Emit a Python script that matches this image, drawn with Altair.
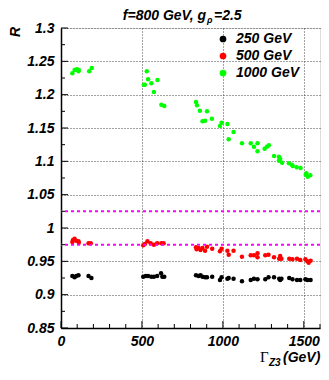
import altair as alt
import pandas as pd

# ---- data ----
x_250 = [70, 84, 94, 108, 170, 188, 508, 524, 538, 558, 574, 594, 618, 626, 638,
         834, 850, 862, 874, 890, 902, 934, 982, 992, 1028, 1036, 1066, 1118, 1172, 1192,
         1214, 1262, 1282, 1316, 1348, 1354, 1362, 1410, 1430, 1458, 1478, 1510, 1522, 1542]
y_250 = [0.928, 0.926, 0.928, 0.929, 0.928, 0.925, 0.927, 0.928, 0.928, 0.927, 0.927, 0.928, 0.932, 0.927, 0.927,
         0.929, 0.928, 0.929, 0.927, 0.926, 0.926, 0.927, 0.922, 0.926, 0.924, 0.925, 0.924, 0.920, 0.922, 0.924,
         0.923, 0.923, 0.926, 0.926, 0.924, 0.922, 0.924, 0.925, 0.923, 0.922, 0.922, 0.923, 0.922, 0.922]

x_500 = [70, 74, 84, 94, 108, 110, 170, 184, 508, 518, 534, 554, 574, 594, 620, 634,
         834, 838, 850, 862, 874, 890, 902, 934, 982, 992, 1028, 1036, 1066, 1118, 1172, 1192,
         1214, 1214, 1262, 1282, 1316, 1348, 1354, 1362, 1410, 1430, 1458, 1478, 1510, 1522, 1530, 1542]
y_500 = [0.979, 0.982, 0.984, 0.981, 0.980, 0.978, 0.977, 0.977, 0.974, 0.976, 0.980, 0.977, 0.975, 0.977, 0.977, 0.977,
         0.971, 0.968, 0.970, 0.967, 0.970, 0.966, 0.972, 0.969, 0.965, 0.969, 0.966, 0.960, 0.966, 0.957, 0.959, 0.959,
         0.962, 0.956, 0.959, 0.960, 0.956, 0.954, 0.958, 0.954, 0.954, 0.953, 0.954, 0.952, 0.953, 0.950, 0.948, 0.951]

x_1000 = [70, 84, 98, 110, 108, 174, 190, 530, 538, 512, 518, 558, 596, 574, 620, 638,
          834, 840, 858, 902, 874, 890, 932, 992, 982, 1028, 1066, 1036, 1118, 1172, 1192, 1214, 1214,
          1258, 1272, 1284, 1316, 1346, 1354, 1346, 1366, 1408, 1426, 1432, 1456, 1480, 1516, 1524, 1540, 1512]
y_1000 = [1.232, 1.237, 1.238, 1.237, 1.235, 1.235, 1.240, 1.235, 1.223, 1.215, 1.215, 1.217, 1.222, 1.204, 1.185, 1.183,
          1.189, 1.184, 1.176, 1.175, 1.160, 1.161, 1.164, 1.158, 1.153, 1.156, 1.144, 1.133, 1.127, 1.127, 1.122, 1.127, 1.115,
          1.119, 1.122, 1.124, 1.108, 1.107, 1.104, 1.101, 1.098, 1.097, 1.095, 1.093, 1.091, 1.090, 1.082, 1.077, 1.079, 1.080]

series = ["250 GeV", "500 GeV", "1000 GeV"]
colors = ["#000000", "#ff0000", "#00ff00"]
band_lines = [1.025, 0.975]
y_labels = [0.85, 0.9, 0.95, 1.0, 1.05, 1.1, 1.15, 1.2, 1.25, 1.3]
x_labels = [0, 500, 1000, 1500]
y_minor = [round(0.85 + 0.025 * i, 3) for i in range(19)]
x_minor = [100 * i for i in range(17)]

rows = []
for name, xs, ys in [(series[0], x_250, y_250), (series[1], x_500, y_500), (series[2], x_1000, y_1000)]:
    for a, b in zip(xs, ys):
        rows.append({"gamma": a, "R": b, "mass": name})
df = pd.DataFrame(rows)

FONT = "Liberation Sans"
W, H = 259, 300

xscale = alt.Scale(domain=[0, 1600], nice=False, zero=False)
yscale = alt.Scale(domain=[0.85, 1.3], nice=False, zero=False)

xaxis = alt.Axis(values=x_labels, format="d", ticks=False, grid=True,
                 gridColor="#444", gridDash=[1, 2], gridWidth=1, domainColor="black",
                 domainWidth=1.5, labelFont=FONT, labelFontWeight="bold", labelFontStyle="italic",
                 labelFontSize=14, labelColor="black", labelPadding=6, labelOverlap=False,
                 labelFlush=False, labelBound=False, title=None)
yaxis = alt.Axis(values=y_labels, ticks=False, grid=True,
                 gridColor="#444", gridDash=[1, 2], gridWidth=1, domainColor="black",
                 domainWidth=1.5, labelFont=FONT, labelFontWeight="bold", labelFontStyle="italic",
                 labelFontSize=14, labelColor="black", labelPadding=7, labelOverlap=False,
                 labelFlush=False, labelBound=False, title=None,
                 labelExpr="datum.value == 1 ? '1' : format(datum.value, '.3~f')")

points = alt.Chart(df).mark_circle(size=20, opacity=1).encode(
    x=alt.X("gamma:Q", scale=xscale, axis=xaxis),
    y=alt.Y("R:Q", scale=yscale, axis=yaxis),
    color=alt.Color("mass:N", scale=alt.Scale(domain=series, range=colors),
                    legend=alt.Legend(orient="none", legendX=155, legendY=4, title=None,
                                      symbolType="circle", symbolSize=45, symbolStrokeWidth=0,
                                      labelFont=FONT, labelFontWeight="bold", labelFontStyle="italic",
                                      labelFontSize=14, labelColor="black", labelOffset=6,
                                      rowPadding=3, padding=0)),
)

bands = alt.Chart(pd.DataFrame({"v": band_lines})).mark_rule(
    color="#ff00ff", strokeWidth=2, strokeDash=[3, 3]
).encode(y=alt.Y("v:Q", scale=yscale, axis=yaxis))

ytick_df = pd.DataFrame({"v": y_minor, "major": [i % 2 == 0 for i in range(19)]})
yticks_minor = alt.Chart(ytick_df[~ytick_df.major]).mark_rule(color="black", strokeWidth=1).encode(
    y=alt.Y("v:Q", scale=yscale, axis=yaxis), x=alt.value(0), x2=alt.value(4))
yticks_major = alt.Chart(ytick_df[ytick_df.major]).mark_rule(color="black", strokeWidth=1).encode(
    y=alt.Y("v:Q", scale=yscale, axis=yaxis), x=alt.value(0), x2=alt.value(7))

xtick_df = pd.DataFrame({"v": x_minor, "major": [i % 5 == 0 for i in range(17)]})
xticks_minor = alt.Chart(xtick_df[~xtick_df.major]).mark_rule(color="black", strokeWidth=1).encode(
    x=alt.X("v:Q", scale=xscale, axis=xaxis), y=alt.value(H), y2=alt.value(H - 4))
xticks_major = alt.Chart(xtick_df[xtick_df.major]).mark_rule(color="black", strokeWidth=1).encode(
    x=alt.X("v:Q", scale=xscale, axis=xaxis), y=alt.value(H), y2=alt.value(H - 7))

def label(text, x, y, size=14, align="left", angle=0, font=FONT, style="italic", weight="bold",
          baseline="alphabetic"):
    return alt.Chart(pd.DataFrame({"t": [text]})).mark_text(
        font=font, fontSize=size, fontStyle=style, fontWeight=weight, align=align,
        baseline=baseline, angle=angle, color="black"
    ).encode(text="t:N", x=alt.value(x), y=alt.value(y))

title_a = label("f=800 GeV, g", 145, -8, size=14, align="right")
title_b = label("ρ", 146, -5, size=9, align="left")
title_c = label("=2.5", 153, -8, size=14, align="left")
ytitle = label("R", -45, 4, size=14, align="center", angle=270, baseline="middle")
xt_a = label("Γ", 199, 334, size=15, font="Liberation Serif", style="normal", weight="normal")
xt_b = label("Z3", 208, 338, size=10)
xt_c = label("(GeV)", 222, 334, size=14)

chart = alt.layer(
    points, bands, yticks_minor, yticks_major, xticks_minor, xticks_major,
    title_a, title_b, title_c, ytitle, xt_a, xt_b, xt_c
).properties(
    width=W, height=H,
    autosize=alt.AutoSizeParams(type="none"),
    padding={"left": 53, "top": 20, "right": 1, "bottom": 40},
).configure_view(stroke="black", strokeWidth=1).configure(background="white")

chart.save("out.html", embed_options={"renderer": "svg", "actions": False})
